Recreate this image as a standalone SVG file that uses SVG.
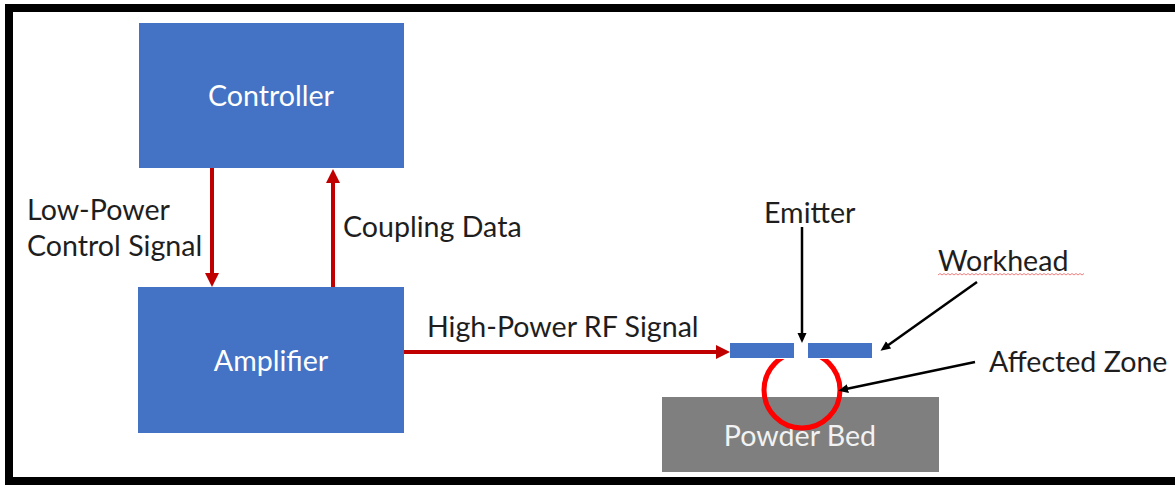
<svg xmlns="http://www.w3.org/2000/svg" width="1175" height="485" viewBox="0 0 1175 485">
<style>
.box{fill:#4472C4}
.wt{fill:#ffffff;font-family:Lato,"Open Sans",sans-serif;font-size:28.6px;text-anchor:middle}
.bt{fill:#1e1e1e;font-family:Lato,"Open Sans",sans-serif;font-size:28.6px}
.red{stroke:#C00000;stroke-width:4;fill:none}
.blk{stroke:#000;stroke-width:2.5;fill:none}
</style>
<defs>
<marker id="ra" markerUnits="userSpaceOnUse" markerWidth="16" markerHeight="16" refX="2" refY="7" orient="auto">
<path d="M0,0 L14,7 L0,14 z" fill="#C00000"/>
</marker>
<marker id="ba" markerUnits="userSpaceOnUse" markerWidth="12" markerHeight="10" refX="2" refY="4.5" orient="auto">
<path d="M0,0 L10,4.5 L0,9 z" fill="#000"/>
</marker>
<clipPath id="below"><rect x="700" y="359" width="200" height="120"/></clipPath>
</defs>
<rect width="1175" height="485" fill="#fff"/>
<path d="M5,4 H1175 V12 H13 V477 H1175 V485 H5 Z" fill="#000"/>

<g id="controller">
<rect class="box" x="139" y="23" width="265" height="145"/>
<text class="wt" x="271" y="106">Controller</text>
</g>
<g id="amplifier">
<rect class="box" x="138" y="287" width="266" height="146"/>
<text class="wt" x="271" y="371">Amplifier</text>
</g>
<g id="powder-bed">
<rect x="662" y="397" width="277" height="75" fill="#7F7F7F"/>
<text x="800" y="446" fill="#F2F2F2" font-family="Lato,'Open Sans',sans-serif" font-size="28.6" text-anchor="middle">Powder Bed</text>
</g>
<g id="affected-zone">
<circle cx="802" cy="390" r="38" fill="none" stroke="#FF0000" stroke-width="5" clip-path="url(#below)"/>
</g>
<g id="workhead">
<rect class="box" x="730" y="343" width="64" height="15"/>
<rect class="box" x="808" y="343" width="64" height="15"/>
</g>

<g id="connectors">
<line class="red" x1="212" y1="168" x2="212" y2="275" marker-end="url(#ra)"/>
<line class="red" x1="333" y1="287" x2="333" y2="181" marker-end="url(#ra)"/>
<line class="red" x1="404" y1="352" x2="718" y2="352" marker-end="url(#ra)"/>
<line class="blk" x1="802" y1="227" x2="802" y2="335" marker-end="url(#ba)"/>
<line class="blk" x1="977" y1="282" x2="887" y2="346" marker-end="url(#ba)"/>
<line class="blk" x1="975" y1="362" x2="846" y2="389" marker-end="url(#ba)"/>
</g>

<g id="labels">
<text class="bt" x="27" y="220">Low-Power</text>
<text class="bt" x="27" y="256">Control Signal</text>
<text class="bt" x="343" y="237">Coupling Data</text>
<text class="bt" x="427" y="337">High-Power RF Signal</text>
<text class="bt" x="764" y="223">Emitter</text>
<text class="bt" x="938" y="271">Workhead</text>
<path d="M938,275 l2,-1.5 l2,1.5 l2,-1.5 l2,1.5 l2,-1.5 l2,1.5 l2,-1.5 l2,1.5 l2,-1.5 l2,1.5 l2,-1.5 l2,1.5 l2,-1.5 l2,1.5 l2,-1.5 l2,1.5 l2,-1.5 l2,1.5 l2,-1.5 l2,1.5 l2,-1.5 l2,1.5 l2,-1.5 l2,1.5 l2,-1.5 l2,1.5 l2,-1.5 l2,1.5 l2,-1.5 l2,1.5 l2,-1.5 l2,1.5 l2,-1.5 l2,1.5 l2,-1.5 l2,1.5 l2,-1.5 l2,1.5 l2,-1.5 l2,1.5 l2,-1.5 l2,1.5 l2,-1.5 l2,1.5 l2,-1.5 l2,1.5 l2,-1.5 l2,1.5 l2,-1.5 l2,1.5 l2,-1.5 l2,1.5 l2,-1.5 l2,1.5 l2,-1.5 l2,1.5 l2,-1.5 l2,1.5 l2,-1.5 l2,1.5 l2,-1.5 l2,1.5 l2,-1.5 l2,1.5 l2,-1.5 l2,1.5 l2,-1.5 l2,1.5 l2,-1.5 l2,1.5 l2,-1.5 l2,1.5 l2,-1.5" fill="none" stroke="#F08080" stroke-width="1"/>
<text class="bt" x="989" y="372">Affected Zone</text>
</g>
</svg>
